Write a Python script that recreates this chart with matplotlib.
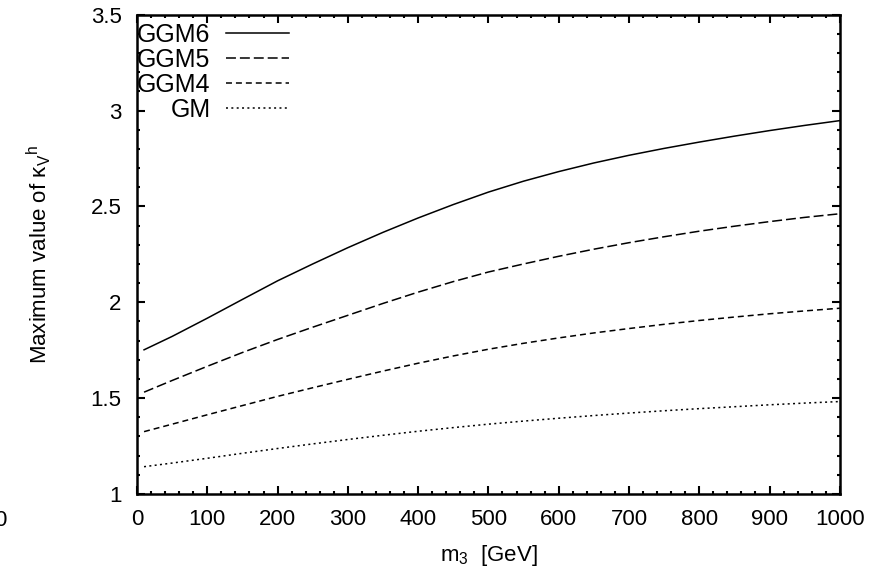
import numpy as np
import matplotlib
matplotlib.use("Agg")
import matplotlib.pyplot as plt
from matplotlib.ticker import MultipleLocator, FormatStrFormatter

plt.rcParams['font.family'] = ['Liberation Sans', 'DejaVu Sans']
plt.rcParams['mathtext.fontset'] = 'custom'
plt.rcParams['mathtext.rm'] = 'Liberation Sans'
plt.rcParams['mathtext.it'] = 'Liberation Sans:italic'

# data
m3 = [10, 50, 100, 150, 200, 250, 300, 350, 400, 450, 500,
      550, 600, 650, 700, 750, 800, 850, 900, 950, 1000]
ggm6 = [1.752, 1.822, 1.917, 2.015, 2.112, 2.200, 2.285, 2.365, 2.440, 2.510, 2.575,
        2.632, 2.682, 2.727, 2.767, 2.803, 2.836, 2.867, 2.896, 2.923, 2.948]
ggm5 = [1.531, 1.592, 1.666, 1.738, 1.806, 1.870, 1.932, 1.994, 2.053, 2.108, 2.158,
        2.200, 2.240, 2.277, 2.311, 2.342, 2.371, 2.397, 2.421, 2.443, 2.462]
ggm4 = [1.325, 1.364, 1.413, 1.461, 1.509, 1.554, 1.598, 1.641, 1.682, 1.720, 1.755,
        1.786, 1.814, 1.840, 1.863, 1.885, 1.905, 1.923, 1.940, 1.955, 1.969]
gm = [1.142, 1.161, 1.186, 1.212, 1.237, 1.261, 1.284, 1.306, 1.327, 1.346, 1.364,
      1.380, 1.395, 1.409, 1.422, 1.434, 1.445, 1.455, 1.465, 1.474, 1.482]

fig = plt.figure(figsize=(8.84, 5.71), dpi=100)
ax = fig.add_axes([0.155, 0.135, 0.795, 0.839])

ax.plot(m3, ggm6, color='k', lw=1.1, label='GGM6')
ax.plot(m3, ggm5, color='k', lw=1.1, dashes=(6.5, 2.6), label='GGM5')
ax.plot(m3, ggm4, color='k', lw=1.1, dashes=(3.9, 2.6), label='GGM4')
ax.plot(m3, gm, color='k', lw=1.1, dashes=(1.3, 2.2), label='GM')

ax.set_xlim(0, 1000)
ax.set_ylim(1, 3.5)
ax.xaxis.set_major_locator(MultipleLocator(100))
ax.xaxis.set_minor_locator(MultipleLocator(20))
ax.yaxis.set_major_locator(MultipleLocator(0.5))
ax.yaxis.set_minor_locator(MultipleLocator(0.1))
ax.yaxis.set_major_formatter(FormatStrFormatter('%g'))

for s in ax.spines.values():
  s.set_linewidth(1.8)
ax.tick_params(which='both', direction='in', top=True, right=True, width=1.5, labelsize=16)
ax.tick_params(which='major', length=5.5)
ax.tick_params(which='minor', length=2.5)
ax.tick_params(axis='x', which='major', pad=11)
ax.tick_params(axis='y', which='major', pad=11)

ax.set_xlabel(r'm$_3$  [GeV]', fontsize=16, labelpad=9)
ax.set_ylabel(r'Maximum value of κ$_{\mathrm{V}}{}^{\mathrm{h}}$', fontsize=16, labelpad=27)

leg = ax.legend(loc='upper left', bbox_to_anchor=(0.0, 0.983), markerfirst=False, frameon=False,
                fontsize=18, handlelength=2.55, handletextpad=0.6, labelspacing=0.04,
                borderpad=0, borderaxespad=0)

# stray label clipped at the left edge of the original picture
fig.text(0.0, 1 - 520 / 571, '0', fontsize=16, ha='center', va='center')

fig.savefig('out.png', dpi=100)
